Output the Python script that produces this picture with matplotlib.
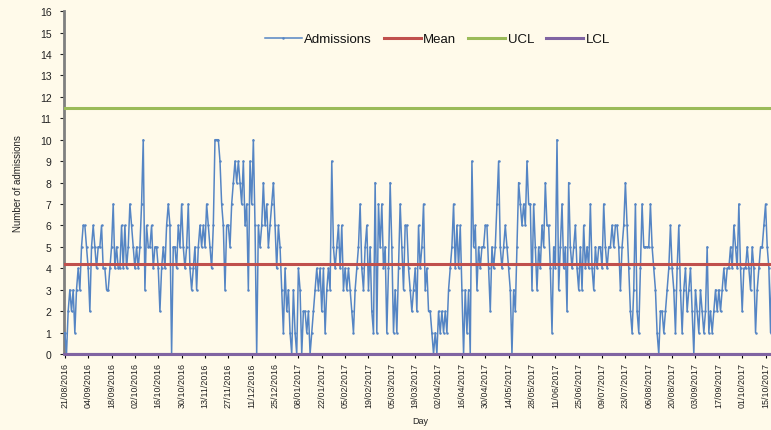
import matplotlib
matplotlib.use("Agg")
import matplotlib.pyplot as plt
import numpy as np
import datetime as dt

plt.rcParams['font.family'] = ['Liberation Sans', 'DejaVu Sans']

# ---- data ----
admissions = [
    1, 0, 2, 3, 2, 3, 1, 3, 4, 3, 5, 6,
    6, 5, 4, 2, 5, 6, 5, 4, 5, 5, 6, 4,
    4, 3, 3, 4, 5, 7, 4, 5, 4, 4, 6, 4,
    6, 4, 5, 7, 6, 5, 4, 5, 4, 5, 7, 10,
    3, 6, 5, 5, 6, 4, 5, 5, 4, 2, 4, 5,
    4, 6, 7, 6, 0, 5, 5, 4, 6, 5, 7, 5,
    4, 5, 7, 4, 3, 4, 5, 3, 5, 6, 5, 6,
    5, 7, 6, 5, 4, 6, 10, 10, 10, 9, 7, 6,
    3, 6, 6, 5, 7, 8, 9, 8, 9, 8, 7, 9,
    6, 7, 3, 9, 7, 10, 6, 0, 6, 5, 6, 8,
    6, 7, 5, 6, 7, 8, 6, 4, 6, 5, 3, 1,
    4, 2, 3, 1, 0, 3, 1, 0, 4, 3, 0, 2,
    2, 1, 2, 0, 1, 2, 3, 4, 3, 4, 2, 4,
    1, 3, 4, 3, 9, 5, 4, 5, 6, 4, 6, 3,
    4, 3, 4, 3, 2, 1, 3, 4, 5, 7, 4, 3,
    5, 6, 3, 5, 2, 1, 8, 1, 7, 5, 7, 4,
    5, 1, 4, 8, 5, 1, 3, 1, 4, 7, 5, 3,
    6, 6, 4, 3, 2, 3, 4, 2, 6, 4, 5, 7,
    3, 4, 2, 2, 1, 0, 1, 0, 2, 1, 2, 1,
    2, 1, 3, 4, 5, 7, 4, 6, 4, 6, 3, 0,
    3, 1, 3, 0, 9, 5, 6, 3, 5, 4, 5, 5,
    6, 6, 4, 2, 5, 4, 5, 7, 9, 5, 4, 5,
    6, 5, 4, 3, 0, 3, 2, 5, 8, 7, 6, 7,
    6, 9, 7, 7, 3, 7, 5, 3, 5, 4, 6, 5,
    8, 6, 6, 4, 1, 5, 4, 10, 3, 5, 7, 4,
    5, 2, 8, 5, 4, 5, 6, 4, 3, 5, 3, 6,
    4, 5, 4, 7, 4, 3, 5, 4, 5, 5, 4, 7,
    5, 4, 5, 5, 6, 5, 6, 6, 5, 3, 5, 6,
    8, 6, 4, 2, 1, 3, 7, 2, 1, 4, 7, 5,
    5, 5, 5, 7, 5, 4, 3, 1, 0, 2, 2, 1,
    2, 3, 4, 6, 4, 3, 1, 4, 6, 3, 1, 3,
    4, 2, 3, 4, 2, 0, 3, 2, 1, 3, 2, 1,
    2, 5, 1, 2, 1, 2, 3, 2, 3, 2, 3, 4,
    3, 4, 4, 5, 4, 6, 5, 4, 7, 4, 2, 4,
    4, 5, 4, 3, 5, 4, 1, 3, 4, 5, 5, 6,
    7, 5, 4, 1, 5, 3,
]
mean_value = 4.2
ucl_value = 11.5
lcl_value = 0.0
start_date = dt.date(2016, 8, 21)
tick_step = 14
y_ticks = list(range(0, 17))

n = len(admissions)
x = np.arange(n)
dates = [start_date + dt.timedelta(days=int(i)) for i in x]
tick_pos = list(range(0, n, tick_step))
tick_labels = [f"{dates[i].day:02d}/{dates[i].month:02d}/{dates[i].year}" for i in tick_pos]

bg = '#fffaea'
fig = plt.figure(figsize=(7.71, 4.31), dpi=100, facecolor=bg)
ax = fig.add_axes([0.083, 0.176, 0.924, 0.796], facecolor=bg)

ax.plot(x, admissions, color='#5585c4', lw=1.1, marker='o', ms=1.8,
        markeredgewidth=0, label='Admissions', zorder=3)
ax.plot(x, [mean_value] * n, color='#c0504d', lw=2.2, label='Mean', zorder=4)
ax.plot(x, [ucl_value] * n, color='#9bbb59', lw=2.2, label='UCL', zorder=4)
ax.plot(x, [lcl_value] * n, color='#8064a2', lw=2.2, label='LCL', zorder=4,
        clip_on=False)

ax.set_xlim(-0.5, n + 0.5)
ax.set_ylim(0, 16)
ax.set_yticks(y_ticks)
ax.tick_params(axis='y', labelsize=7.5, colors='#222222', length=3, width=0.8, pad=6)
ax.set_xticks(tick_pos)
ax.set_xticklabels(tick_labels, rotation=90, fontsize=6.4, color='#222222')
ax.tick_params(axis='x', length=3, width=0.8, pad=3)

for s in ['top', 'right']:
    ax.spines[s].set_visible(False)
ax.spines['left'].set_color('#7f7f7f')
ax.spines['left'].set_linewidth(2)
ax.spines['bottom'].set_color('#8064a2')
ax.spines['bottom'].set_linewidth(1.5)

ax.set_ylabel('Number of admissions', fontsize=7, color='#222222', labelpad=12)
ax.set_xlabel('Day', fontsize=6.5, color='#222222', labelpad=6)

leg = ax.legend(loc='center', bbox_to_anchor=(0.524, 0.918), ncol=4, frameon=False,
                fontsize=9.5, handlelength=2.8, handletextpad=0.2, columnspacing=0.9)
for t in leg.get_texts():
    t.set_color('#111111')

fig.savefig('out.png', dpi=100, facecolor=bg)
